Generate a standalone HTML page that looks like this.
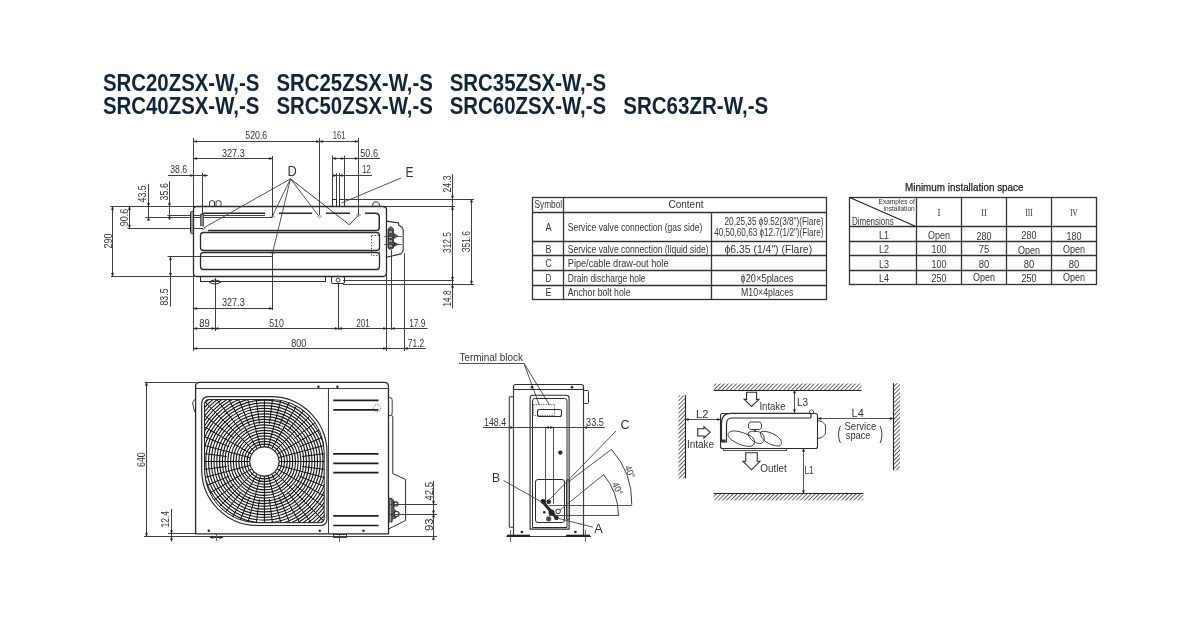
<!DOCTYPE html>
<html><head><meta charset="utf-8"><style>
html,body{margin:0;padding:0;background:#fff;width:1200px;height:617px;overflow:hidden}
svg{position:absolute;left:0;top:0;will-change:transform}
text{font-family:"Liberation Sans",sans-serif}
</style></head><body>
<svg width="1200" height="617" viewBox="0 0 1200 617">
<rect width="1200" height="617" fill="#fff"/>
<text x="102.9" y="90.6" font-size="24.5" font-weight="bold" fill="#10253a" textLength="156.5" lengthAdjust="spacingAndGlyphs">SRC20ZSX-W,-S</text>
<text x="276.4" y="90.6" font-size="24.5" font-weight="bold" fill="#10253a" textLength="156.5" lengthAdjust="spacingAndGlyphs">SRC25ZSX-W,-S</text>
<text x="449.7" y="90.6" font-size="24.5" font-weight="bold" fill="#10253a" textLength="156.5" lengthAdjust="spacingAndGlyphs">SRC35ZSX-W,-S</text>
<text x="102.9" y="113.6" font-size="24.5" font-weight="bold" fill="#10253a" textLength="156.5" lengthAdjust="spacingAndGlyphs">SRC40ZSX-W,-S</text>
<text x="276.4" y="113.6" font-size="24.5" font-weight="bold" fill="#10253a" textLength="156.5" lengthAdjust="spacingAndGlyphs">SRC50ZSX-W,-S</text>
<text x="449.7" y="113.6" font-size="24.5" font-weight="bold" fill="#10253a" textLength="156.5" lengthAdjust="spacingAndGlyphs">SRC60ZSX-W,-S</text>
<text x="623.2" y="113.6" font-size="24.5" font-weight="bold" fill="#10253a" textLength="145" lengthAdjust="spacingAndGlyphs">SRC63ZR-W,-S</text>
<line x1="193.5" y1="138" x2="193.5" y2="351" stroke="#404040" stroke-width="1.0" />
<line x1="193.6" y1="141.5" x2="358.3" y2="141.5" stroke="#404040" stroke-width="1.0" />
<polygon points="193.6,141.5 196.79999999999998,140.4 196.79999999999998,142.6" fill="#222" stroke="#222" stroke-width="0.4"/>
<polygon points="319.6,141.5 316.40000000000003,140.4 316.40000000000003,142.6" fill="#222" stroke="#222" stroke-width="0.4"/>
<polygon points="319.6,141.5 322.8,140.4 322.8,142.6" fill="#222" stroke="#222" stroke-width="0.4"/>
<polygon points="358.3,141.5 355.1,140.4 355.1,142.6" fill="#222" stroke="#222" stroke-width="0.4"/>
<line x1="319.5" y1="138" x2="319.5" y2="215" stroke="#404040" stroke-width="1.0" />
<line x1="358.5" y1="138" x2="358.5" y2="215" stroke="#404040" stroke-width="1.0" />
<text x="245.3" y="139.2" font-size="11" textLength="21.899999999999977" lengthAdjust="spacingAndGlyphs" fill="#333" font-weight="normal">520.6</text>
<text x="332.8" y="138.7" font-size="11" textLength="12.699999999999989" lengthAdjust="spacingAndGlyphs" fill="#333" font-weight="normal">161</text>
<line x1="193.6" y1="158.5" x2="272.5" y2="158.5" stroke="#404040" stroke-width="1.0" />
<polygon points="193.6,158.5 196.79999999999998,157.4 196.79999999999998,159.6" fill="#222" stroke="#222" stroke-width="0.4"/>
<polygon points="272.5,158.5 269.3,157.4 269.3,159.6" fill="#222" stroke="#222" stroke-width="0.4"/>
<line x1="272.5" y1="156" x2="272.5" y2="217" stroke="#404040" stroke-width="1.0" />
<line x1="272.5" y1="253" x2="272.5" y2="310" stroke="#404040" stroke-width="1.0" />
<text x="222.0" y="156.7" font-size="11" textLength="22.69999999999999" lengthAdjust="spacingAndGlyphs" fill="#333" font-weight="normal">327.3</text>
<line x1="168" y1="175.5" x2="208" y2="175.5" stroke="#404040" stroke-width="1.0" />
<polygon points="193.6,175.5 190.4,174.4 190.4,176.6" fill="#222" stroke="#222" stroke-width="0.4"/>
<polygon points="202.6,175.5 205.79999999999998,174.4 205.79999999999998,176.6" fill="#222" stroke="#222" stroke-width="0.4"/>
<line x1="202.5" y1="173" x2="202.5" y2="214" stroke="#404040" stroke-width="1.0" />
<text x="170.3" y="173.3" font-size="11" textLength="16.899999999999977" lengthAdjust="spacingAndGlyphs" fill="#333" font-weight="normal">38.6</text>
<line x1="332.5" y1="155.5" x2="332.5" y2="206" stroke="#404040" stroke-width="1.0" />
<line x1="344.5" y1="155.5" x2="344.5" y2="206" stroke="#404040" stroke-width="1.0" />
<line x1="332.6" y1="158.5" x2="380" y2="158.5" stroke="#404040" stroke-width="1.0" />
<polygon points="332.6,158.5 335.8,157.4 335.8,159.6" fill="#222" stroke="#222" stroke-width="0.4"/>
<polygon points="344.3,158.5 341.1,157.4 341.1,159.6" fill="#222" stroke="#222" stroke-width="0.4"/>
<polygon points="358.3,158.5 355.1,157.4 355.1,159.6" fill="#222" stroke="#222" stroke-width="0.4"/>
<text x="360.3" y="156.7" font-size="11" textLength="17.69999999999999" lengthAdjust="spacingAndGlyphs" fill="#333" font-weight="normal">50.6</text>
<line x1="332.6" y1="175.5" x2="372" y2="175.5" stroke="#404040" stroke-width="1.0" />
<polygon points="336.5,175.5 333.3,174.4 333.3,176.6" fill="#222" stroke="#222" stroke-width="0.4"/>
<polygon points="339.3,175.5 342.5,174.4 342.5,176.6" fill="#222" stroke="#222" stroke-width="0.4"/>
<text x="361.9" y="173" font-size="11" textLength="8.800000000000011" lengthAdjust="spacingAndGlyphs" fill="#333" font-weight="normal">12</text>
<line x1="336.5" y1="173" x2="336.5" y2="206" stroke="#404040" stroke-width="1.0" />
<line x1="339.5" y1="173" x2="339.5" y2="206" stroke="#404040" stroke-width="1.0" />
<rect x="332.5" y="199.5" width="4.0" height="7.0" rx="0" fill="none" stroke="#2b2b2b" stroke-width="1.0" />
<rect x="339.5" y="199.5" width="5.0" height="7.0" rx="0" fill="none" stroke="#2b2b2b" stroke-width="1.0" />
<line x1="110.3" y1="206.5" x2="455" y2="206.5" stroke="#404040" stroke-width="1.0" />
<line x1="112.5" y1="206.5" x2="112.5" y2="276.3" stroke="#404040" stroke-width="1.0" />
<polygon points="112.5,206.5 111.4,209.7 113.6,209.7" fill="#222" stroke="#222" stroke-width="0.4"/>
<polygon points="112.5,276.3 111.4,273.1 113.6,273.1" fill="#222" stroke="#222" stroke-width="0.4"/>
<text transform="translate(111.7,248.5) rotate(-90)" x="0" y="0" font-size="11" textLength="15.0" lengthAdjust="spacingAndGlyphs" fill="#333">290</text>
<line x1="129.5" y1="206.5" x2="129.5" y2="228.3" stroke="#404040" stroke-width="1.0" />
<polygon points="129.5,206.5 128.4,209.7 130.6,209.7" fill="#222" stroke="#222" stroke-width="0.4"/>
<polygon points="129.5,228.3 128.4,225.10000000000002 130.6,225.10000000000002" fill="#222" stroke="#222" stroke-width="0.4"/>
<line x1="127.4" y1="228.5" x2="203" y2="228.5" stroke="#404040" stroke-width="1.0" />
<text transform="translate(128.3,226.2) rotate(-90)" x="0" y="0" font-size="11" textLength="17.5" lengthAdjust="spacingAndGlyphs" fill="#333">90.6</text>
<line x1="148.5" y1="183.9" x2="148.5" y2="217.3" stroke="#404040" stroke-width="1.0" />
<polygon points="148.5,206.5 147.4,203.3 149.6,203.3" fill="#222" stroke="#222" stroke-width="0.4"/>
<polygon points="148.5,217.3 147.4,220.5 149.6,220.5" fill="#222" stroke="#222" stroke-width="0.4"/>
<line x1="145.4" y1="217.5" x2="272" y2="217.5" stroke="#404040" stroke-width="1.0" />
<text transform="translate(146.3,202.4) rotate(-90)" x="0" y="0" font-size="11" textLength="17.099999999999994" lengthAdjust="spacingAndGlyphs" fill="#333">43.5</text>
<line x1="169.5" y1="181.2" x2="169.5" y2="219.9" stroke="#404040" stroke-width="1.0" />
<polygon points="169.5,206.5 168.4,203.3 170.6,203.3" fill="#222" stroke="#222" stroke-width="0.4"/>
<polygon points="169.5,215.3 168.4,218.5 170.6,218.5" fill="#222" stroke="#222" stroke-width="0.4"/>
<line x1="167.3" y1="215.5" x2="265" y2="215.5" stroke="#404040" stroke-width="1.0" />
<text transform="translate(167.7,200.4) rotate(-90)" x="0" y="0" font-size="11" textLength="17.200000000000017" lengthAdjust="spacingAndGlyphs" fill="#333">35.6</text>
<line x1="170.5" y1="256.7" x2="170.5" y2="306.7" stroke="#404040" stroke-width="1.0" />
<polygon points="170.5,256.7 169.4,259.9 171.6,259.9" fill="#222" stroke="#222" stroke-width="0.4"/>
<polygon points="170.5,276.3 169.4,273.1 171.6,273.1" fill="#222" stroke="#222" stroke-width="0.4"/>
<line x1="167.5" y1="256.5" x2="272" y2="256.5" stroke="#404040" stroke-width="1.0" />
<text transform="translate(168,305.5) rotate(-90)" x="0" y="0" font-size="11" textLength="17.0" lengthAdjust="spacingAndGlyphs" fill="#333">83.5</text>
<line x1="111" y1="276.5" x2="194" y2="276.5" stroke="#404040" stroke-width="1.0" />
<line x1="193.6" y1="308.5" x2="272.5" y2="308.5" stroke="#404040" stroke-width="1.0" />
<polygon points="193.6,308.5 196.79999999999998,307.4 196.79999999999998,309.6" fill="#222" stroke="#222" stroke-width="0.4"/>
<polygon points="272.5,308.5 269.3,307.4 269.3,309.6" fill="#222" stroke="#222" stroke-width="0.4"/>
<text x="222.0" y="306.3" font-size="11" textLength="22.69999999999999" lengthAdjust="spacingAndGlyphs" fill="#333" font-weight="normal">327.3</text>
<line x1="215.5" y1="278" x2="215.5" y2="331" stroke="#404040" stroke-width="1.0" />
<line x1="193.6" y1="328.5" x2="427.5" y2="328.5" stroke="#404040" stroke-width="1.0" />
<polygon points="193.6,328.5 196.79999999999998,327.4 196.79999999999998,329.6" fill="#222" stroke="#222" stroke-width="0.4"/>
<polygon points="215,328.5 211.8,327.4 211.8,329.6" fill="#222" stroke="#222" stroke-width="0.4"/>
<polygon points="215,328.5 218.2,327.4 218.2,329.6" fill="#222" stroke="#222" stroke-width="0.4"/>
<polygon points="338.3,328.5 335.1,327.4 335.1,329.6" fill="#222" stroke="#222" stroke-width="0.4"/>
<polygon points="338.3,328.5 341.5,327.4 341.5,329.6" fill="#222" stroke="#222" stroke-width="0.4"/>
<polygon points="386.7,328.5 383.5,327.4 383.5,329.6" fill="#222" stroke="#222" stroke-width="0.4"/>
<polygon points="391.3,328.5 394.5,327.4 394.5,329.6" fill="#222" stroke="#222" stroke-width="0.4"/>
<text x="199.2" y="326.7" font-size="11" textLength="10.5" lengthAdjust="spacingAndGlyphs" fill="#333" font-weight="normal">89</text>
<text x="269.2" y="326.7" font-size="11" textLength="14.600000000000023" lengthAdjust="spacingAndGlyphs" fill="#333" font-weight="normal">510</text>
<text x="356.2" y="326.7" font-size="11" textLength="13.5" lengthAdjust="spacingAndGlyphs" fill="#333" font-weight="normal">201</text>
<text x="409.2" y="326.7" font-size="11" textLength="16.30000000000001" lengthAdjust="spacingAndGlyphs" fill="#333" font-weight="normal">17.9</text>
<line x1="338.5" y1="283" x2="338.5" y2="330" stroke="#404040" stroke-width="1.0" />
<line x1="386.5" y1="257" x2="386.5" y2="351" stroke="#404040" stroke-width="1.0" />
<line x1="391.5" y1="250" x2="391.5" y2="330" stroke="#404040" stroke-width="1.0" />
<line x1="404.5" y1="253" x2="404.5" y2="351" stroke="#404040" stroke-width="1.0" />
<line x1="193.6" y1="348.5" x2="425.8" y2="348.5" stroke="#404040" stroke-width="1.0" />
<polygon points="193.6,348.5 196.79999999999998,347.4 196.79999999999998,349.6" fill="#222" stroke="#222" stroke-width="0.4"/>
<polygon points="386.7,348.5 383.5,347.4 383.5,349.6" fill="#222" stroke="#222" stroke-width="0.4"/>
<polygon points="404.5,348.5 407.7,347.4 407.7,349.6" fill="#222" stroke="#222" stroke-width="0.4"/>
<text x="291.2" y="346.7" font-size="11" textLength="15.100000000000023" lengthAdjust="spacingAndGlyphs" fill="#333" font-weight="normal">800</text>
<text x="407.8" y="346.7" font-size="11" textLength="16.399999999999977" lengthAdjust="spacingAndGlyphs" fill="#333" font-weight="normal">71.2</text>
<line x1="343" y1="199.5" x2="474" y2="199.5" stroke="#404040" stroke-width="1.0" />
<line x1="452.5" y1="174" x2="452.5" y2="308.3" stroke="#404040" stroke-width="1.0" />
<polygon points="452.5,199 451.4,195.8 453.6,195.8" fill="#222" stroke="#222" stroke-width="0.4"/>
<polygon points="452.5,206.5 451.4,209.7 453.6,209.7" fill="#222" stroke="#222" stroke-width="0.4"/>
<polygon points="452.5,280.3 451.4,277.1 453.6,277.1" fill="#222" stroke="#222" stroke-width="0.4"/>
<polygon points="452.5,284.2 451.4,287.4 453.6,287.4" fill="#222" stroke="#222" stroke-width="0.4"/>
<text transform="translate(450.5,192.5) rotate(-90)" x="0" y="0" font-size="11" textLength="17.0" lengthAdjust="spacingAndGlyphs" fill="#333">24.3</text>
<text transform="translate(451,253.0) rotate(-90)" x="0" y="0" font-size="11" textLength="21.0" lengthAdjust="spacingAndGlyphs" fill="#333">312.5</text>
<text transform="translate(451,306.5) rotate(-90)" x="0" y="0" font-size="11" textLength="16.0" lengthAdjust="spacingAndGlyphs" fill="#333">14.8</text>
<line x1="471.5" y1="199" x2="471.5" y2="284.2" stroke="#404040" stroke-width="1.0" />
<polygon points="471.5,199 470.4,202.2 472.6,202.2" fill="#222" stroke="#222" stroke-width="0.4"/>
<polygon points="471.5,284.2 470.4,281.0 472.6,281.0" fill="#222" stroke="#222" stroke-width="0.4"/>
<text transform="translate(470,252.2) rotate(-90)" x="0" y="0" font-size="11" textLength="21.0" lengthAdjust="spacingAndGlyphs" fill="#333">351.6</text>
<line x1="343" y1="280.5" x2="454" y2="280.5" stroke="#404040" stroke-width="1.0" />
<line x1="343" y1="284.5" x2="474" y2="284.5" stroke="#404040" stroke-width="1.0" />
<path d="M193.5,209 Q193.5,206.5 196.5,206.5 L383,206.5 Q386.5,206.5 386.5,210 L386.5,272.5 Q386.5,276.5 383,276.5 L196.5,276.5 Q193.5,276.5 193.5,273 Z" fill="none" stroke="#2b2b2b" stroke-width="1.3" />
<path d="M200.5,218 Q200.5,213.3 205,213.3 L265,213.3 M279,213.3 L312,213.3 M326,213.3 L350,213.3 M365,213.3 L375,213.3 Q379.3,213.3 379.3,217 L379.3,227 Q379.3,230.6 376,230.6 L208,230.6" fill="none" stroke="#2b2b2b" stroke-width="1.5" />
<rect x="200.5" y="232.5" width="179.0" height="18.0" rx="3" fill="none" stroke="#2b2b2b" stroke-width="1.3" />
<rect x="200.5" y="252.5" width="179.0" height="17.0" rx="3" fill="none" stroke="#2b2b2b" stroke-width="1.3" />
<rect x="200.5" y="214.5" width="3.0" height="11.0" rx="0" fill="#888" stroke="#444" stroke-width="0.8" />
<rect x="190.5" y="211.5" width="3.0" height="22.0" rx="1.2" fill="#999" stroke="#2b2b2b" stroke-width="1.0" />
<path d="M209.5,206.5 L209.5,201.5 Q212,199.5 214.5,201.5 L214.5,206.5 M216,206.5 L216,201.5 Q218.5,199.5 221,201.5 L221,206.5" fill="none" stroke="#2b2b2b" stroke-width="0.9" />
<path d="M372.8,206.3 L372.8,203.5 Q376,199.8 379.3,203.5 L379.3,206.3" fill="none" stroke="#2b2b2b" stroke-width="1.0" />
<rect x="200.5" y="276.5" width="125.0" height="5.0" rx="0" fill="none" stroke="#2b2b2b" stroke-width="1.0" />
<rect x="331.5" y="276.5" width="13.0" height="7.0" rx="1.5" fill="none" stroke="#2b2b2b" stroke-width="1.0" />
<circle cx="338.1" cy="280.2" r="2.0" fill="none" stroke="#2b2b2b" stroke-width="0.9" />
<path d="M209,282 Q215,278 221,282 Q215,286 209,282" fill="none" stroke="#2b2b2b" stroke-width="1.0" />
<path d="M386.3,221.1 L398.6,223 L398.6,225 L402,227.2 Q403.2,228.5 403.2,231 L403.2,249.3 Q403,252.5 400.9,253.9 L386.3,257.3" fill="none" stroke="#2b2b2b" stroke-width="1.1" />
<polygon points="388,229 391,226.5 393.5,229 393.5,248 390,249.5 388,248" fill="#555" stroke="#2b2b2b" stroke-width="0.8" />
<rect x="388.5" y="230.5" width="4.0" height="3.0" rx="0" fill="#999" stroke="#222" stroke-width="0.6" />
<rect x="388.5" y="235.5" width="4.0" height="3.0" rx="0" fill="#999" stroke="#222" stroke-width="0.6" />
<rect x="388.5" y="239.5" width="4.0" height="3.0" rx="0" fill="#999" stroke="#222" stroke-width="0.6" />
<rect x="388.5" y="244.5" width="4.0" height="3.0" rx="0" fill="#999" stroke="#222" stroke-width="0.6" />
<line x1="384" y1="236.5" x2="402" y2="236.5" stroke="#404040" stroke-width="0.8" />
<line x1="384" y1="244.5" x2="402" y2="244.5" stroke="#404040" stroke-width="0.8" />
<polygon points="394,233.5 398,236 394,238.5" fill="#555" stroke="#2b2b2b" stroke-width="0.6" />
<polygon points="394,242 398,244.3 394,246.5" fill="#444" stroke="#2b2b2b" stroke-width="0.6" />
<rect x="371.5" y="235.5" width="8.0" height="20.0" rx="0" fill="none" stroke="#2b2b2b" stroke-width="0.8" stroke-dasharray="1.5,1.5"/>
<circle cx="203.5" cy="228" r="1.6" fill="none" stroke="#2b2b2b" stroke-width="0.7" stroke-dasharray="1,1"/>
<circle cx="272.5" cy="216.5" r="1.6" fill="none" stroke="#2b2b2b" stroke-width="0.7" stroke-dasharray="1,1"/>
<circle cx="319.6" cy="216.5" r="1.6" fill="none" stroke="#2b2b2b" stroke-width="0.7" stroke-dasharray="1,1"/>
<circle cx="358.5" cy="215" r="1.6" fill="none" stroke="#2b2b2b" stroke-width="0.7" stroke-dasharray="1,1"/>
<circle cx="272.5" cy="253" r="1.6" fill="none" stroke="#2b2b2b" stroke-width="0.7" stroke-dasharray="1,1"/>
<text x="287.5" y="176.3" font-size="14" textLength="9.3" lengthAdjust="spacingAndGlyphs" fill="#333">D</text>
<line x1="290.5" y1="178.8" x2="203.5" y2="228" stroke="#404040" stroke-width="0.9" />
<line x1="290.5" y1="178.8" x2="272.3" y2="216.4" stroke="#404040" stroke-width="0.9" />
<line x1="290.5" y1="178.8" x2="319" y2="216.4" stroke="#404040" stroke-width="0.9" />
<line x1="290.5" y1="178.8" x2="272.5" y2="253" stroke="#404040" stroke-width="0.9" />
<polyline points="290.5,178.8 349.4,224.8 358.5,215.1" fill="none" stroke="#2b2b2b" stroke-width="0.9" />
<text x="405.5" y="176.5" font-size="14" textLength="8" lengthAdjust="spacingAndGlyphs" fill="#333">E</text>
<line x1="401" y1="178" x2="341.5" y2="203" stroke="#404040" stroke-width="0.9" />
<rect x="532.5" y="197.5" width="294.0" height="102.0" rx="0" fill="none" stroke="#333" stroke-width="1.3" />
<line x1="563.5" y1="197.7" x2="563.5" y2="299" stroke="#333" stroke-width="1.3" />
<line x1="711.5" y1="212" x2="711.5" y2="299" stroke="#333" stroke-width="1.3" />
<line x1="532.6" y1="212.5" x2="826.3" y2="212.5" stroke="#333" stroke-width="1.3" />
<line x1="532.6" y1="241.5" x2="826.3" y2="241.5" stroke="#333" stroke-width="1.3" />
<line x1="532.6" y1="255.5" x2="826.3" y2="255.5" stroke="#333" stroke-width="1.3" />
<line x1="532.6" y1="270.5" x2="826.3" y2="270.5" stroke="#333" stroke-width="1.3" />
<line x1="532.6" y1="285.5" x2="826.3" y2="285.5" stroke="#333" stroke-width="1.3" />
<text x="534.5" y="208" font-size="10.5" textLength="27.700000000000045" lengthAdjust="spacingAndGlyphs" fill="#333" font-weight="normal">Symbol</text>
<text x="668.5" y="208" font-size="10.5" textLength="35.0" lengthAdjust="spacingAndGlyphs" fill="#333" font-weight="normal">Content</text>
<text x="545.5" y="230.5" font-size="10.5" textLength="6.0" lengthAdjust="spacingAndGlyphs" fill="#333" font-weight="normal">A</text>
<text x="567.8" y="230.5" font-size="10.5" textLength="134.5" lengthAdjust="spacingAndGlyphs" fill="#333" font-weight="normal">Service valve connection (gas side)</text>
<text x="545.5" y="252.7" font-size="10.5" textLength="6.0" lengthAdjust="spacingAndGlyphs" fill="#333" font-weight="normal">B</text>
<text x="567.8" y="252.7" font-size="10.5" textLength="140.70000000000005" lengthAdjust="spacingAndGlyphs" fill="#333" font-weight="normal">Service valve connection (liquid side)</text>
<text x="545.5" y="267" font-size="10.5" textLength="6.0" lengthAdjust="spacingAndGlyphs" fill="#333" font-weight="normal">C</text>
<text x="567.8" y="267" font-size="10.5" textLength="100.70000000000005" lengthAdjust="spacingAndGlyphs" fill="#333" font-weight="normal">Pipe/cable draw-out hole</text>
<text x="545.5" y="281.5" font-size="10.5" textLength="6.0" lengthAdjust="spacingAndGlyphs" fill="#333" font-weight="normal">D</text>
<text x="567.8" y="281.5" font-size="10.5" textLength="77.70000000000005" lengthAdjust="spacingAndGlyphs" fill="#333" font-weight="normal">Drain discharge hole</text>
<text x="545.5" y="296" font-size="10.5" textLength="6.0" lengthAdjust="spacingAndGlyphs" fill="#333" font-weight="normal">E</text>
<text x="567.8" y="296" font-size="10.5" textLength="62.700000000000045" lengthAdjust="spacingAndGlyphs" fill="#333" font-weight="normal">Anchor bolt hole</text>
<text x="724.5" y="225" font-size="10" textLength="99.0" lengthAdjust="spacingAndGlyphs" fill="#333" font-weight="normal">20,25,35 ϕ9.52(3/8")(Flare)</text>
<text x="714.2" y="236.4" font-size="10" textLength="109.29999999999995" lengthAdjust="spacingAndGlyphs" fill="#333" font-weight="normal">40,50,60,63 ϕ12.7(1/2")(Flare)</text>
<text x="724.5" y="253" font-size="10.5" textLength="87.60000000000002" lengthAdjust="spacingAndGlyphs" fill="#333" font-weight="normal">ϕ6.35 (1/4") (Flare)</text>
<text x="740.5" y="281.5" font-size="10.5" textLength="53.0" lengthAdjust="spacingAndGlyphs" fill="#333" font-weight="normal">ϕ20×5places</text>
<text x="741.0" y="296" font-size="10.5" textLength="52.5" lengthAdjust="spacingAndGlyphs" fill="#333" font-weight="normal">M10×4places</text>
<text x="905" y="190.5" font-size="11" textLength="118.5" lengthAdjust="spacingAndGlyphs" fill="#222" stroke="#222" stroke-width="0.25">Minimum installation space</text>
<rect x="849.5" y="197.5" width="247.0" height="87.0" rx="0" fill="none" stroke="#333" stroke-width="1.3" />
<line x1="916.5" y1="197.5" x2="916.5" y2="284.8" stroke="#333" stroke-width="1.3" />
<line x1="961.5" y1="197.5" x2="961.5" y2="284.8" stroke="#333" stroke-width="1.3" />
<line x1="1006.5" y1="197.5" x2="1006.5" y2="284.8" stroke="#333" stroke-width="1.3" />
<line x1="1051.5" y1="197.5" x2="1051.5" y2="284.8" stroke="#333" stroke-width="1.3" />
<line x1="849.7" y1="226.5" x2="1096.5" y2="226.5" stroke="#333" stroke-width="1.3" />
<line x1="849.7" y1="241.5" x2="1096.5" y2="241.5" stroke="#333" stroke-width="1.3" />
<line x1="849.7" y1="255.5" x2="1096.5" y2="255.5" stroke="#333" stroke-width="1.3" />
<line x1="849.7" y1="270.5" x2="1096.5" y2="270.5" stroke="#333" stroke-width="1.3" />
<line x1="849.7" y1="197.5" x2="916.5" y2="226.8" stroke="#222" stroke-width="1.2" />
<text x="878.5" y="204" font-size="7" textLength="36.299999999999955" lengthAdjust="spacingAndGlyphs" fill="#333" font-weight="normal">Examples of</text>
<text x="883.5" y="211" font-size="7" textLength="31.299999999999955" lengthAdjust="spacingAndGlyphs" fill="#333" font-weight="normal">installation</text>
<text x="851.9" y="225" font-size="10" textLength="41.89999999999998" lengthAdjust="spacingAndGlyphs" fill="#333" font-weight="normal">Dimensions</text>
<text x="937.5" y="216" font-size="10.5" style="font-family:Liberation Serif" textLength="3" lengthAdjust="spacingAndGlyphs" fill="#333">I</text>
<text x="981.25" y="216" font-size="10.5" style="font-family:Liberation Serif" textLength="5.5" lengthAdjust="spacingAndGlyphs" fill="#333">II</text>
<text x="1025.25" y="216" font-size="10.5" style="font-family:Liberation Serif" textLength="7.5" lengthAdjust="spacingAndGlyphs" fill="#333">III</text>
<text x="1070.25" y="216" font-size="10.5" style="font-family:Liberation Serif" textLength="7.5" lengthAdjust="spacingAndGlyphs" fill="#333">IV</text>
<text x="883.9" y="238.5" font-size="11" text-anchor="middle" textLength="10" lengthAdjust="spacingAndGlyphs" fill="#333">L1</text>
<text x="928.0" y="238.5" font-size="11" textLength="22.0" lengthAdjust="spacingAndGlyphs" fill="#333" font-weight="normal">Open</text>
<text x="976.5" y="239.5" font-size="11" textLength="15.0" lengthAdjust="spacingAndGlyphs" fill="#333" font-weight="normal">280</text>
<text x="1021.5" y="238.5" font-size="11" textLength="15.0" lengthAdjust="spacingAndGlyphs" fill="#333" font-weight="normal">280</text>
<text x="1066.5" y="239.5" font-size="11" textLength="15.0" lengthAdjust="spacingAndGlyphs" fill="#333" font-weight="normal">180</text>
<text x="883.9" y="253" font-size="11" text-anchor="middle" textLength="10" lengthAdjust="spacingAndGlyphs" fill="#333">L2</text>
<text x="931.5" y="253" font-size="11" textLength="15.0" lengthAdjust="spacingAndGlyphs" fill="#333" font-weight="normal">100</text>
<text x="978.75" y="253" font-size="11" textLength="10.5" lengthAdjust="spacingAndGlyphs" fill="#333" font-weight="normal">75</text>
<text x="1018.0" y="253.5" font-size="11" textLength="22.0" lengthAdjust="spacingAndGlyphs" fill="#333" font-weight="normal">Open</text>
<text x="1063.0" y="252.5" font-size="11" textLength="22.0" lengthAdjust="spacingAndGlyphs" fill="#333" font-weight="normal">Open</text>
<text x="883.9" y="267.5" font-size="11" text-anchor="middle" textLength="10" lengthAdjust="spacingAndGlyphs" fill="#333">L3</text>
<text x="931.5" y="267.5" font-size="11" textLength="15.0" lengthAdjust="spacingAndGlyphs" fill="#333" font-weight="normal">100</text>
<text x="978.75" y="267.5" font-size="11" textLength="10.5" lengthAdjust="spacingAndGlyphs" fill="#333" font-weight="normal">80</text>
<text x="1023.75" y="267.5" font-size="11" textLength="10.5" lengthAdjust="spacingAndGlyphs" fill="#333" font-weight="normal">80</text>
<text x="1068.75" y="267.5" font-size="11" textLength="10.5" lengthAdjust="spacingAndGlyphs" fill="#333" font-weight="normal">80</text>
<text x="883.9" y="282" font-size="11" text-anchor="middle" textLength="10" lengthAdjust="spacingAndGlyphs" fill="#333">L4</text>
<text x="931.5" y="282" font-size="11" textLength="15.0" lengthAdjust="spacingAndGlyphs" fill="#333" font-weight="normal">250</text>
<text x="973.0" y="281" font-size="11" textLength="22.0" lengthAdjust="spacingAndGlyphs" fill="#333" font-weight="normal">Open</text>
<text x="1021.5" y="282" font-size="11" textLength="15.0" lengthAdjust="spacingAndGlyphs" fill="#333" font-weight="normal">250</text>
<text x="1063.0" y="281" font-size="11" textLength="22.0" lengthAdjust="spacingAndGlyphs" fill="#333" font-weight="normal">Open</text>
<line x1="144.6" y1="382.5" x2="196" y2="382.5" stroke="#404040" stroke-width="1.0" />
<line x1="146.5" y1="382.3" x2="146.5" y2="536.5" stroke="#404040" stroke-width="1.0" />
<polygon points="146.5,382.3 145.4,385.5 147.6,385.5" fill="#222" stroke="#222" stroke-width="0.4"/>
<polygon points="146.5,536.5 145.4,533.3 147.6,533.3" fill="#222" stroke="#222" stroke-width="0.4"/>
<text transform="translate(145.4,467.0) rotate(-90)" x="0" y="0" font-size="11" textLength="14.800000000000011" lengthAdjust="spacingAndGlyphs" fill="#333">640</text>
<line x1="144" y1="536.5" x2="437" y2="536.5" stroke="#404040" stroke-width="1.0" />
<line x1="171.5" y1="509" x2="171.5" y2="541.5" stroke="#404040" stroke-width="1.0" />
<polygon points="171.5,533.8 170.4,530.5999999999999 172.6,530.5999999999999" fill="#222" stroke="#222" stroke-width="0.4"/>
<polygon points="171.5,536.5 170.4,539.7 172.6,539.7" fill="#222" stroke="#222" stroke-width="0.4"/>
<text transform="translate(169,527.5) rotate(-90)" x="0" y="0" font-size="11" textLength="16.5" lengthAdjust="spacingAndGlyphs" fill="#333">12.4</text>
<line x1="168" y1="533.5" x2="196" y2="533.5" stroke="#404040" stroke-width="1.0" />
<path d="M195.6,386 Q195.6,382.3 199.5,382.3 L384.5,382.3 Q388.5,382.3 388.5,386.5 L388.5,533.8 L195.6,533.8 Z" fill="none" stroke="#2b2b2b" stroke-width="1.3" />
<line x1="195.6" y1="388.5" x2="388.5" y2="388.5" stroke="#404040" stroke-width="1.1" />
<line x1="328.5" y1="388.6" x2="328.5" y2="533.8" stroke="#404040" stroke-width="1.1" />
<path d="M194.8,399.3 L192.5,403 L194.8,412.2" fill="none" stroke="#2b2b2b" stroke-width="0.9" />
<circle cx="318.4" cy="386.8" r="1.2" fill="#222" stroke="#2b2b2b" stroke-width="0" />
<circle cx="337.4" cy="386.8" r="1.2" fill="#222" stroke="#2b2b2b" stroke-width="0" />
<circle cx="208.8" cy="530.8" r="1.2" fill="#222" stroke="#2b2b2b" stroke-width="0" />
<circle cx="319.7" cy="530.8" r="1.2" fill="#222" stroke="#2b2b2b" stroke-width="0" />
<circle cx="363.5" cy="530.8" r="1.2" fill="#222" stroke="#2b2b2b" stroke-width="0" />
<line x1="333.2" y1="400.3" x2="378.5" y2="400.3" stroke="#1e1e1e" stroke-width="1.7" />
<line x1="333.2" y1="409.8" x2="378.5" y2="409.8" stroke="#1e1e1e" stroke-width="1.7" />
<line x1="333.2" y1="453.8" x2="378.5" y2="453.8" stroke="#1e1e1e" stroke-width="1.7" />
<line x1="333.2" y1="463.4" x2="378.5" y2="463.4" stroke="#1e1e1e" stroke-width="1.7" />
<line x1="333.2" y1="472.7" x2="378.5" y2="472.7" stroke="#1e1e1e" stroke-width="1.7" />
<line x1="333.2" y1="515.9" x2="378.5" y2="515.9" stroke="#1e1e1e" stroke-width="1.7" />
<line x1="333.2" y1="525.5" x2="378.5" y2="525.5" stroke="#1e1e1e" stroke-width="1.7" />
<circle cx="377" cy="408.2" r="3.6" fill="none" stroke="#2b2b2b" stroke-width="0.7" stroke-dasharray="1.2,1.2"/>
<path d="M388.5,397.1 L391.5,398 L392.2,400 L392.2,413 L391.5,415.6 L388.5,415.6" fill="none" stroke="#2b2b2b" stroke-width="0.9" />
<polyline points="392.8,415.6 392.8,473.6 405.6,479.5 405.6,520.4 388.5,529" fill="none" stroke="#2b2b2b" stroke-width="1.0" />
<polygon points="388.5,498 392,498.5 394,501 394,510 396,510.5 396,518 392.5,519 392,522 388.5,522" fill="#555" stroke="#2b2b2b" stroke-width="0.8" />
<circle cx="395.9" cy="503.9" r="2.1" fill="#fff" stroke="#2b2b2b" stroke-width="1.2" />
<circle cx="396.6" cy="514" r="2.5" fill="#fff" stroke="#2b2b2b" stroke-width="1.2" />
<line x1="390.5" y1="500" x2="390.5" y2="522" stroke="#ddd" stroke-width="0.6" />
<line x1="388.5" y1="504.5" x2="437" y2="504.5" stroke="#404040" stroke-width="1.0" />
<line x1="388.5" y1="514.5" x2="437" y2="514.5" stroke="#404040" stroke-width="1.0" />
<line x1="433.5" y1="481" x2="433.5" y2="536.5" stroke="#404040" stroke-width="1.0" />
<polygon points="433.5,504.3 432.4,501.1 434.6,501.1" fill="#222" stroke="#222" stroke-width="0.4"/>
<polygon points="433.5,514 432.4,517.2 434.6,517.2" fill="#222" stroke="#222" stroke-width="0.4"/>
<polygon points="433.5,514 432.4,510.8 434.6,510.8" fill="#222" stroke="#222" stroke-width="0.4"/>
<polygon points="433.5,536.5 432.4,539.7 434.6,539.7" fill="#222" stroke="#222" stroke-width="0.4"/>
<text transform="translate(432.5,500.5) rotate(-90)" x="0" y="0" font-size="11" textLength="18.600000000000023" lengthAdjust="spacingAndGlyphs" fill="#333">42.5</text>
<text transform="translate(432.5,531.1) rotate(-90)" x="0" y="0" font-size="11" textLength="12.600000000000023" lengthAdjust="spacingAndGlyphs" fill="#333">93</text>
<line x1="210" y1="537.5" x2="223" y2="537.5" stroke="#404040" stroke-width="1.0" />
<line x1="216.5" y1="533.8" x2="216.5" y2="540.8" stroke="#404040" stroke-width="0.8" />
<polygon points="210,537.5 213.2,536.4 213.2,538.6" fill="#222" stroke="#222" stroke-width="0.4"/>
<polygon points="223,537.5 219.8,536.4 219.8,538.6" fill="#222" stroke="#222" stroke-width="0.4"/>
<rect x="333.5" y="534.5" width="13.0" height="3.0" rx="0" fill="none" stroke="#2b2b2b" stroke-width="0.9" />
<line x1="339.5" y1="534" x2="339.5" y2="542" stroke="#404040" stroke-width="0.8" />
<path d="M207.7,396.7 L271,396.7 A56,56 0 0 1 327,452.7 L327,519.5 A6,6 0 0 1 321,525.5 L257.7,525.5 A56,56 0 0 1 201.7,469.5 L201.7,402.7 A6,6 0 0 1 207.7,396.7 Z" fill="none" stroke="#2b2b2b" stroke-width="1.2" />
<clipPath id="gclip"><path d="M208.5,399.5 L271.2,399.5 A53,53 0 0 1 324.2,452.5 L324.2,518.7 A4,4 0 0 1 320.2,522.7 L257.5,522.7 A53,53 0 0 1 204.5,469.70000000000005 L204.5,403.5 A4,4 0 0 1 208.5,399.5 Z"/></clipPath>
<path d="M208.5,399.5 L271.2,399.5 A53,53 0 0 1 324.2,452.5 L324.2,518.7 A4,4 0 0 1 320.2,522.7 L257.5,522.7 A53,53 0 0 1 204.5,469.70000000000005 L204.5,403.5 A4,4 0 0 1 208.5,399.5 Z" fill="none" stroke="#2b2b2b" stroke-width="1.0" />
<g clip-path="url(#gclip)"><circle cx="264.4" cy="461.5" r="14.60" fill="none" stroke="#1a1a1a" stroke-width="1.15"/><circle cx="264.4" cy="461.5" r="17.35" fill="none" stroke="#1a1a1a" stroke-width="1.15"/><circle cx="264.4" cy="461.5" r="20.10" fill="none" stroke="#1a1a1a" stroke-width="1.15"/><circle cx="264.4" cy="461.5" r="22.85" fill="none" stroke="#1a1a1a" stroke-width="1.15"/><circle cx="264.4" cy="461.5" r="25.60" fill="none" stroke="#1a1a1a" stroke-width="1.15"/><circle cx="264.4" cy="461.5" r="28.35" fill="none" stroke="#1a1a1a" stroke-width="1.15"/><circle cx="264.4" cy="461.5" r="31.10" fill="none" stroke="#1a1a1a" stroke-width="1.15"/><circle cx="264.4" cy="461.5" r="33.85" fill="none" stroke="#1a1a1a" stroke-width="1.15"/><circle cx="264.4" cy="461.5" r="36.60" fill="none" stroke="#1a1a1a" stroke-width="1.15"/><circle cx="264.4" cy="461.5" r="39.35" fill="none" stroke="#1a1a1a" stroke-width="1.15"/><circle cx="264.4" cy="461.5" r="42.10" fill="none" stroke="#1a1a1a" stroke-width="1.15"/><circle cx="264.4" cy="461.5" r="44.85" fill="none" stroke="#1a1a1a" stroke-width="1.15"/><circle cx="264.4" cy="461.5" r="47.60" fill="none" stroke="#1a1a1a" stroke-width="1.15"/><circle cx="264.4" cy="461.5" r="50.35" fill="none" stroke="#1a1a1a" stroke-width="1.15"/><circle cx="264.4" cy="461.5" r="53.10" fill="none" stroke="#1a1a1a" stroke-width="1.15"/><circle cx="264.4" cy="461.5" r="55.85" fill="none" stroke="#1a1a1a" stroke-width="1.15"/><circle cx="264.4" cy="461.5" r="58.60" fill="none" stroke="#1a1a1a" stroke-width="1.15"/><circle cx="264.4" cy="461.5" r="61.35" fill="none" stroke="#1a1a1a" stroke-width="1.15"/><circle cx="264.4" cy="461.5" r="64.10" fill="none" stroke="#1a1a1a" stroke-width="1.15"/><circle cx="264.4" cy="461.5" r="66.85" fill="none" stroke="#1a1a1a" stroke-width="1.15"/><circle cx="264.4" cy="461.5" r="69.60" fill="none" stroke="#1a1a1a" stroke-width="1.15"/><circle cx="264.4" cy="461.5" r="72.35" fill="none" stroke="#1a1a1a" stroke-width="1.15"/><circle cx="264.4" cy="461.5" r="75.10" fill="none" stroke="#1a1a1a" stroke-width="1.15"/><circle cx="264.4" cy="461.5" r="77.85" fill="none" stroke="#1a1a1a" stroke-width="1.15"/><circle cx="264.4" cy="461.5" r="80.60" fill="none" stroke="#1a1a1a" stroke-width="1.15"/><circle cx="264.4" cy="461.5" r="83.35" fill="none" stroke="#1a1a1a" stroke-width="1.15"/><circle cx="264.4" cy="461.5" r="86.10" fill="none" stroke="#1a1a1a" stroke-width="1.15"/><circle cx="264.4" cy="461.5" r="88.85" fill="none" stroke="#1a1a1a" stroke-width="1.15"/><circle cx="264.4" cy="461.5" r="91.60" fill="none" stroke="#1a1a1a" stroke-width="1.15"/><circle cx="264.4" cy="461.5" r="94.35" fill="none" stroke="#1a1a1a" stroke-width="1.15"/><line x1="279.00" y1="461.50" x2="359.40" y2="461.50" stroke="#111" stroke-width="1.0"/><line x1="302.07" y1="466.46" x2="358.59" y2="473.90" stroke="#111" stroke-width="1.0"/><line x1="278.50" y1="465.28" x2="356.16" y2="486.09" stroke="#111" stroke-width="1.0"/><line x1="299.51" y1="476.04" x2="352.17" y2="497.85" stroke="#111" stroke-width="1.0"/><line x1="277.04" y1="468.80" x2="346.67" y2="509.00" stroke="#111" stroke-width="1.0"/><line x1="294.55" y1="484.63" x2="339.77" y2="519.33" stroke="#111" stroke-width="1.0"/><line x1="274.72" y1="471.82" x2="331.58" y2="528.68" stroke="#111" stroke-width="1.0"/><line x1="287.53" y1="491.65" x2="322.23" y2="536.87" stroke="#111" stroke-width="1.0"/><line x1="271.70" y1="474.14" x2="311.90" y2="543.77" stroke="#111" stroke-width="1.0"/><line x1="278.94" y1="496.61" x2="300.75" y2="549.27" stroke="#111" stroke-width="1.0"/><line x1="268.18" y1="475.60" x2="288.99" y2="553.26" stroke="#111" stroke-width="1.0"/><line x1="269.36" y1="499.17" x2="276.80" y2="555.69" stroke="#111" stroke-width="1.0"/><line x1="264.40" y1="476.10" x2="264.40" y2="556.50" stroke="#111" stroke-width="1.0"/><line x1="259.44" y1="499.17" x2="252.00" y2="555.69" stroke="#111" stroke-width="1.0"/><line x1="260.62" y1="475.60" x2="239.81" y2="553.26" stroke="#111" stroke-width="1.0"/><line x1="249.86" y1="496.61" x2="228.05" y2="549.27" stroke="#111" stroke-width="1.0"/><line x1="257.10" y1="474.14" x2="216.90" y2="543.77" stroke="#111" stroke-width="1.0"/><line x1="241.27" y1="491.65" x2="206.57" y2="536.87" stroke="#111" stroke-width="1.0"/><line x1="254.08" y1="471.82" x2="197.22" y2="528.68" stroke="#111" stroke-width="1.0"/><line x1="234.25" y1="484.63" x2="189.03" y2="519.33" stroke="#111" stroke-width="1.0"/><line x1="251.76" y1="468.80" x2="182.13" y2="509.00" stroke="#111" stroke-width="1.0"/><line x1="229.29" y1="476.04" x2="176.63" y2="497.85" stroke="#111" stroke-width="1.0"/><line x1="250.30" y1="465.28" x2="172.64" y2="486.09" stroke="#111" stroke-width="1.0"/><line x1="226.73" y1="466.46" x2="170.21" y2="473.90" stroke="#111" stroke-width="1.0"/><line x1="249.80" y1="461.50" x2="169.40" y2="461.50" stroke="#111" stroke-width="1.0"/><line x1="226.73" y1="456.54" x2="170.21" y2="449.10" stroke="#111" stroke-width="1.0"/><line x1="250.30" y1="457.72" x2="172.64" y2="436.91" stroke="#111" stroke-width="1.0"/><line x1="229.29" y1="446.96" x2="176.63" y2="425.15" stroke="#111" stroke-width="1.0"/><line x1="251.76" y1="454.20" x2="182.13" y2="414.00" stroke="#111" stroke-width="1.0"/><line x1="234.25" y1="438.37" x2="189.03" y2="403.67" stroke="#111" stroke-width="1.0"/><line x1="254.08" y1="451.18" x2="197.22" y2="394.32" stroke="#111" stroke-width="1.0"/><line x1="241.27" y1="431.35" x2="206.57" y2="386.13" stroke="#111" stroke-width="1.0"/><line x1="257.10" y1="448.86" x2="216.90" y2="379.23" stroke="#111" stroke-width="1.0"/><line x1="249.86" y1="426.39" x2="228.05" y2="373.73" stroke="#111" stroke-width="1.0"/><line x1="260.62" y1="447.40" x2="239.81" y2="369.74" stroke="#111" stroke-width="1.0"/><line x1="259.44" y1="423.83" x2="252.00" y2="367.31" stroke="#111" stroke-width="1.0"/><line x1="264.40" y1="446.90" x2="264.40" y2="366.50" stroke="#111" stroke-width="1.0"/><line x1="269.36" y1="423.83" x2="276.80" y2="367.31" stroke="#111" stroke-width="1.0"/><line x1="268.18" y1="447.40" x2="288.99" y2="369.74" stroke="#111" stroke-width="1.0"/><line x1="278.94" y1="426.39" x2="300.75" y2="373.73" stroke="#111" stroke-width="1.0"/><line x1="271.70" y1="448.86" x2="311.90" y2="379.23" stroke="#111" stroke-width="1.0"/><line x1="287.53" y1="431.35" x2="322.23" y2="386.13" stroke="#111" stroke-width="1.0"/><line x1="274.72" y1="451.18" x2="331.58" y2="394.32" stroke="#111" stroke-width="1.0"/><line x1="294.55" y1="438.37" x2="339.77" y2="403.67" stroke="#111" stroke-width="1.0"/><line x1="277.04" y1="454.20" x2="346.67" y2="414.00" stroke="#111" stroke-width="1.0"/><line x1="299.51" y1="446.96" x2="352.17" y2="425.15" stroke="#111" stroke-width="1.0"/><line x1="278.50" y1="457.72" x2="356.16" y2="436.91" stroke="#111" stroke-width="1.0"/><line x1="302.07" y1="456.54" x2="358.59" y2="449.10" stroke="#111" stroke-width="1.0"/></g>
<circle cx="264.4" cy="461.5" r="14.6" fill="#fff" stroke="#2b2b2b" stroke-width="1.0" />
<text x="459.5" y="361.2" font-size="10.5" textLength="63.39999999999998" lengthAdjust="spacingAndGlyphs" fill="#333" font-weight="normal">Terminal block</text>
<line x1="459" y1="363.5" x2="523.9" y2="363.5" stroke="#404040" stroke-width="0.9" />
<line x1="523.9" y1="363.2" x2="539.2" y2="404.8" stroke="#404040" stroke-width="0.9" />
<line x1="523.9" y1="363.2" x2="549.4" y2="404.8" stroke="#404040" stroke-width="0.9" />
<path d="M513.5,389.5 L513.5,386.5 Q513.5,384.5 516,384.5 L581,384.5 Q583.5,384.5 583.5,386.5 L583.5,389.5 Z" fill="none" stroke="#2b2b2b" stroke-width="1.2" />
<line x1="513.5" y1="389.5" x2="513.5" y2="535" stroke="#404040" stroke-width="1.2" />
<line x1="583.5" y1="389.5" x2="583.5" y2="535" stroke="#404040" stroke-width="1.2" />
<path d="M513.2,396.8 L509.3,396.8 L509.3,527.2 L513.2,527.2" fill="none" stroke="#2b2b2b" stroke-width="1.0" />
<rect x="583.5" y="390.5" width="5.0" height="13.0" rx="1" fill="none" stroke="#2b2b2b" stroke-width="1.0" />
<path d="M530.1,529.1 L530.1,398 Q530.1,395.3 533,395.3 L566,395.3 Q569.1,395.3 569.1,398 L569.1,529.1 Z" fill="none" stroke="#2b2b2b" stroke-width="1.1" />
<path d="M532.5,527.5 L532.5,401 Q532.5,398.5 535,398.5 L564.5,398.5 Q567,398.5 567,401 L567,527.5 Z" fill="none" stroke="#2b2b2b" stroke-width="1.0" />
<rect x="533.5" y="404.5" width="21.0" height="11.0" rx="0" fill="none" stroke="#2b2b2b" stroke-width="0.7" stroke-dasharray="1.2,1.2"/>
<rect x="537.5" y="409.5" width="24.0" height="7.0" rx="2" fill="none" stroke="#2b2b2b" stroke-width="1.1" />
<line x1="483" y1="427.5" x2="604.8" y2="427.5" stroke="#404040" stroke-width="1.0" />
<polygon points="513.6,427.5 510.40000000000003,426.4 510.40000000000003,428.6" fill="#222" stroke="#222" stroke-width="0.4"/>
<polygon points="545.5,427.5 548.7,426.4 548.7,428.6" fill="#222" stroke="#222" stroke-width="0.4"/>
<polygon points="553.5,427.5 550.3,426.4 550.3,428.6" fill="#222" stroke="#222" stroke-width="0.4"/>
<polygon points="583.7,427.5 586.9000000000001,426.4 586.9000000000001,428.6" fill="#222" stroke="#222" stroke-width="0.4"/>
<text x="484.0" y="426" font-size="11" textLength="22.100000000000023" lengthAdjust="spacingAndGlyphs" fill="#333" font-weight="normal">148.4</text>
<text x="586.1" y="426" font-size="11" textLength="17.699999999999932" lengthAdjust="spacingAndGlyphs" fill="#333" font-weight="normal">33.5</text>
<line x1="545.5" y1="427.4" x2="545.5" y2="504" stroke="#404040" stroke-width="0.9" />
<line x1="553.5" y1="427.4" x2="553.5" y2="504" stroke="#404040" stroke-width="0.9" />
<circle cx="560.3" cy="452.6" r="2.2" fill="#2a2a2a" stroke="#2b2b2b" stroke-width="0" />
<rect x="535.5" y="479.5" width="29.0" height="43.0" rx="2.5" fill="none" stroke="#2b2b2b" stroke-width="1.0" />
<rect x="566.5" y="479.5" width="3.0" height="40.0" rx="1.2" fill="none" stroke="#2b2b2b" stroke-width="0.9" />
<line x1="543" y1="502" x2="556.5" y2="518" stroke="#2a2a2a" stroke-width="3.2" />
<circle cx="543" cy="501.5" r="2.4" fill="#222" stroke="#2b2b2b" stroke-width="0" />
<circle cx="548.7" cy="501.8" r="2.3" fill="#222" stroke="#2b2b2b" stroke-width="0" />
<circle cx="551.5" cy="512.5" r="3.0" fill="#222" stroke="#2b2b2b" stroke-width="0" />
<circle cx="556.5" cy="518" r="2.3" fill="#2a2a2a" stroke="#2b2b2b" stroke-width="0" />
<circle cx="548.7" cy="518.8" r="2.6" fill="#4a4a4a" stroke="#2b2b2b" stroke-width="0" />
<circle cx="558.1" cy="511.4" r="2.3" fill="#fff" stroke="#2b2b2b" stroke-width="1.0" />
<circle cx="544.3" cy="512.3" r="1.3" fill="#222" stroke="#2b2b2b" stroke-width="0" />
<text x="492" y="481.8" font-size="13.5" textLength="8" lengthAdjust="spacingAndGlyphs" fill="#333">B</text>
<line x1="503.5" y1="480.5" x2="543.3" y2="502.9" stroke="#404040" stroke-width="0.9" />
<text x="594.3" y="533.3" font-size="13.5" textLength="8.5" lengthAdjust="spacingAndGlyphs" fill="#333">A</text>
<line x1="592.9" y1="527.2" x2="558.9" y2="518.5" stroke="#404040" stroke-width="0.9" />
<text x="620.5" y="428.5" font-size="13.5" textLength="9" lengthAdjust="spacingAndGlyphs" fill="#333">C</text>
<line x1="616" y1="431" x2="547.5" y2="501.5" stroke="#404040" stroke-width="0.9" />
<line x1="567.6" y1="482.5" x2="611.4" y2="449.4" stroke="#404040" stroke-width="0.9" />
<line x1="560" y1="510" x2="603.6" y2="474.7" stroke="#404040" stroke-width="0.9" />
<line x1="549" y1="505.5" x2="631.8" y2="505.5" stroke="#404040" stroke-width="0.9" />
<line x1="549" y1="515.5" x2="619.1" y2="515.5" stroke="#404040" stroke-width="0.9" />
<path d="M611.4,449.4 A80,80 0 0 1 631.8,504.8" fill="none" stroke="#2b2b2b" stroke-width="0.9" />
<path d="M603.6,474.7 A65,65 0 0 1 618.5,515" fill="none" stroke="#2b2b2b" stroke-width="0.9" />
<text transform="translate(624.5,467) rotate(68)" font-size="9.5" textLength="13" lengthAdjust="spacingAndGlyphs" fill="#333">40°</text>
<text transform="translate(611.8,484) rotate(65)" font-size="9.5" textLength="13" lengthAdjust="spacingAndGlyphs" fill="#333">40°</text>
<line x1="506.4" y1="536.5" x2="591" y2="536.5" stroke="#404040" stroke-width="1.1" />
<line x1="507" y1="535.8" x2="530" y2="535.8" stroke="#222" stroke-width="2.2" />
<line x1="566" y1="535.8" x2="590" y2="535.8" stroke="#222" stroke-width="2.2" />
<line x1="510.5" y1="530" x2="510.5" y2="541.8" stroke="#404040" stroke-width="0.8" />
<line x1="585.5" y1="530" x2="585.5" y2="541.8" stroke="#404040" stroke-width="0.8" />
<circle cx="521.9" cy="532" r="1.3" fill="#222" stroke="#2b2b2b" stroke-width="0" />
<circle cx="575.4" cy="532" r="1.3" fill="#222" stroke="#2b2b2b" stroke-width="0" />
<circle cx="531.9" cy="387.3" r="1.3" fill="#222" stroke="#2b2b2b" stroke-width="0" />
<circle cx="572" cy="387.3" r="1.3" fill="#222" stroke="#2b2b2b" stroke-width="0" />
<pattern id="h1" patternUnits="userSpaceOnUse" width="2.9" height="2.9" patternTransform="rotate(45)"><line x1="0" y1="0" x2="0" y2="2.9" stroke="#2a2a2a" stroke-width="1.45"/></pattern>
<rect x="713.6" y="383.6" width="147.89999999999998" height="6.399999999999977" fill="url(#h1)"/>
<line x1="713.6" y1="390.5" x2="861.5" y2="390.5" stroke="#222" stroke-width="1.1" />
<pattern id="h2" patternUnits="userSpaceOnUse" width="2.9" height="2.9" patternTransform="rotate(45)"><line x1="0" y1="0" x2="0" y2="2.9" stroke="#2a2a2a" stroke-width="1.45"/></pattern>
<rect x="713.6" y="493.6" width="149.69999999999993" height="6.7999999999999545" fill="url(#h2)"/>
<line x1="713.6" y1="493.5" x2="863.3" y2="493.5" stroke="#222" stroke-width="1.1" />
<pattern id="h3" patternUnits="userSpaceOnUse" width="2.9" height="2.9" patternTransform="rotate(45)"><line x1="0" y1="0" x2="0" y2="2.9" stroke="#2a2a2a" stroke-width="1.45"/></pattern>
<rect x="678.4" y="395.4" width="6.800000000000068" height="83.0" fill="url(#h3)"/>
<line x1="685.5" y1="395.4" x2="685.5" y2="478.4" stroke="#222" stroke-width="1.1" />
<pattern id="h4" patternUnits="userSpaceOnUse" width="2.9" height="2.9" patternTransform="rotate(45)"><line x1="0" y1="0" x2="0" y2="2.9" stroke="#2a2a2a" stroke-width="1.45"/></pattern>
<rect x="893.2" y="383.2" width="6.7999999999999545" height="87.10000000000002" fill="url(#h4)"/>
<line x1="893.5" y1="383.2" x2="893.5" y2="470.3" stroke="#222" stroke-width="1.1" />
<rect x="720.5" y="413.5" width="97.0" height="35.0" rx="2" fill="none" stroke="#2b2b2b" stroke-width="1.1" />
<path d="M810,413.3 L731,413.3 Q721.5,413.3 721.5,423 L721.5,442 L726.5,442 L726.5,424 Q726.5,418 732,418 L810,418 Q812.5,415.7 810,413.3" fill="none" stroke="#2b2b2b" stroke-width="1.2" />
<rect x="721.8" y="439.5" width="3.8" height="2.5" rx="0" fill="#333" stroke="#2b2b2b" stroke-width="0" />
<path d="M750,422 L760,422 L761.5,424 L761.5,428 L759.5,429.5 L750.5,429.5 L748.5,428 L748.5,424 Z" fill="none" stroke="#2b2b2b" stroke-width="0.9" />
<circle cx="755" cy="431" r="1" fill="#333" stroke="#2b2b2b" stroke-width="0" />
<path d="M729,432.5 C733,429 742,432 750,435.5 C755,438 756,444 752,446 C746,447.5 737,444 731,439.5 C727.5,436.5 727.5,434 729,432.5 Z" fill="none" stroke="#2b2b2b" stroke-width="0.9" />
<path d="M748.5,432.5 C752,430.5 759,430.5 762.5,434 C765,437 765,442 761,443.5 C757,444 752,441 750,438 C748.5,436 747.5,434 748.5,432.5 Z" fill="none" stroke="#2b2b2b" stroke-width="0.9" />
<path d="M761,431.5 C767,430.5 776,434 780,439 C782.5,442 782,446 778,446 C771,445.5 765,442 762.5,438.5 C760.5,436 760,433 761,431.5 Z" fill="none" stroke="#2b2b2b" stroke-width="0.9" />
<polyline points="817,420.5 822,421.5 825.5,425 825.5,434 822,437.5 817,438.5" fill="none" stroke="#2b2b2b" stroke-width="0.9" />
<line x1="723.5" y1="450.5" x2="786.5" y2="450.5" stroke="#404040" stroke-width="0.9" />
<line x1="723.5" y1="448" x2="723.5" y2="450.5" stroke="#404040" stroke-width="0.9" />
<line x1="786.5" y1="448" x2="786.5" y2="450.5" stroke="#404040" stroke-width="0.9" />
<path d="M809.5,413 L809.5,411 Q811.5,408.8 813.5,411 L813.5,413" fill="none" stroke="#2b2b2b" stroke-width="0.8" />
<line x1="794.5" y1="390" x2="794.5" y2="412.6" stroke="#404040" stroke-width="0.9" />
<polygon points="794.5,412.6 793.4,409.40000000000003 795.6,409.40000000000003" fill="#222" stroke="#222" stroke-width="0.4"/>
<polygon points="794.5,390 793.4,393.2 795.6,393.2" fill="#222" stroke="#222" stroke-width="0.4"/>
<text x="797.0" y="406.3" font-size="11" textLength="11.200000000000045" lengthAdjust="spacingAndGlyphs" fill="#333" font-weight="normal">L3</text>
<line x1="685.2" y1="419.5" x2="720.5" y2="419.5" stroke="#404040" stroke-width="0.9" />
<polygon points="685.2,419.5 688.4000000000001,418.4 688.4000000000001,420.6" fill="#222" stroke="#222" stroke-width="0.4"/>
<polygon points="720.5,419.5 717.3,418.4 717.3,420.6" fill="#222" stroke="#222" stroke-width="0.4"/>
<text x="696.0" y="417.6" font-size="11" textLength="12.399999999999977" lengthAdjust="spacingAndGlyphs" fill="#333" font-weight="normal">L2</text>
<line x1="817.9" y1="418.5" x2="893.2" y2="418.5" stroke="#404040" stroke-width="0.9" />
<polygon points="817.9,418.5 821.1,417.4 821.1,419.6" fill="#222" stroke="#222" stroke-width="0.4"/>
<polygon points="893.2,418.5 890.0,417.4 890.0,419.6" fill="#222" stroke="#222" stroke-width="0.4"/>
<text x="851.5" y="417.2" font-size="11" textLength="12.299999999999955" lengthAdjust="spacingAndGlyphs" fill="#333" font-weight="normal">L4</text>
<line x1="803.5" y1="448.3" x2="803.5" y2="493.6" stroke="#404040" stroke-width="0.9" />
<polygon points="803.5,448.3 802.4,451.5 804.6,451.5" fill="#222" stroke="#222" stroke-width="0.4"/>
<polygon points="803.5,493.6 802.4,490.40000000000003 804.6,490.40000000000003" fill="#222" stroke="#222" stroke-width="0.4"/>
<text x="804.5" y="474.4" font-size="11" textLength="9.200000000000045" lengthAdjust="spacingAndGlyphs" fill="#333" font-weight="normal">L1</text>
<text x="844.5" y="430.1" font-size="11" textLength="31.799999999999955" lengthAdjust="spacingAndGlyphs" fill="#333" font-weight="normal">Service</text>
<text x="845.8" y="439.2" font-size="10.5" textLength="24.700000000000045" lengthAdjust="spacingAndGlyphs" fill="#333" font-weight="normal">space</text>
<text x="837.5" y="439" font-size="19" textLength="3.5" lengthAdjust="spacingAndGlyphs" fill="#333">(</text>
<text x="879.5" y="439" font-size="19" textLength="3.5" lengthAdjust="spacingAndGlyphs" fill="#333">)</text>
<polygon points="746.552,392.3 756.548,392.3 756.548,399.4 758.9,399.4 751.55,406.5 744.2,399.4 746.552,399.4" fill="none" stroke="#2b2b2b" stroke-width="1.1" />
<text x="759.4" y="409.7" font-size="11" textLength="26.100000000000023" lengthAdjust="spacingAndGlyphs" fill="#333" font-weight="normal">Intake</text>
<polygon points="697.7,428.734 703.95,428.734 703.95,426.7 710.2,432.35 703.95,438 703.95,435.966 697.7,435.966" fill="none" stroke="#2b2b2b" stroke-width="1.1" />
<text x="687.0" y="448.3" font-size="11" textLength="27.100000000000023" lengthAdjust="spacingAndGlyphs" fill="#333" font-weight="normal">Intake</text>
<polygon points="745.72,452.8 757.28,452.8 757.28,461.3 760,461.3 751.5,469.8 743,461.3 745.72,461.3" fill="none" stroke="#2b2b2b" stroke-width="1.1" />
<text x="760.3" y="472.1" font-size="11" textLength="26.40000000000009" lengthAdjust="spacingAndGlyphs" fill="#333" font-weight="normal">Outlet</text>
</svg>
</body></html>
